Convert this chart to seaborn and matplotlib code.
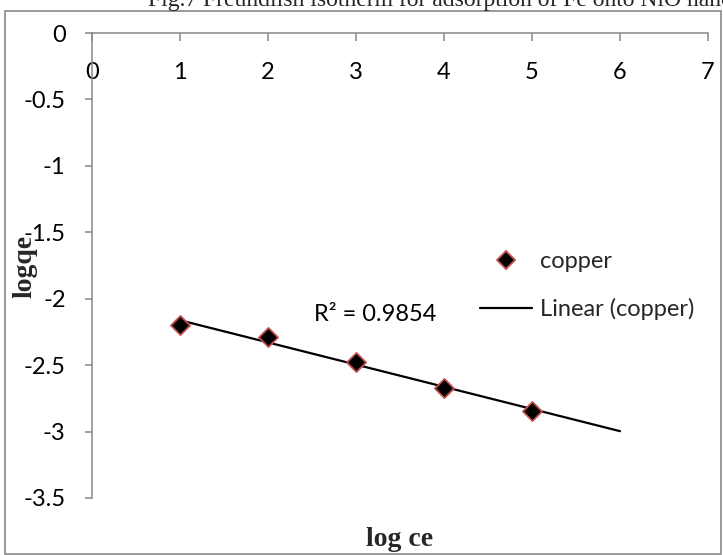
import numpy as np
import pandas as pd
import matplotlib
matplotlib.use("Agg")
import matplotlib.pyplot as plt
import seaborn as sns
from matplotlib.patches import Rectangle
from matplotlib.lines import Line2D

# ---- data ----
log_ce = [1, 2, 3, 4, 5]
log_qe = [-2.20, -2.29, -2.475, -2.67, -2.845]
series_name = "copper"
trend_label = "Linear (copper)"
r2_text = "R\u00b2 = 0.9854"
trend_x_range = [1, 6]
x_ticks = [0, 1, 2, 3, 4, 5, 6, 7]
y_ticks = [0, -0.5, -1, -1.5, -2, -2.5, -3, -3.5]
y_tick_labels = ["0", "-0.5", "-1", "-1.5", "-2", "-2.5", "-3", "-3.5"]
title_text = "Fig.7 Freundlish isotherm for adsorption of Fe onto NiO nanoparticles"
x_label = "log ce"
y_label = "logqe"

sns.set_theme(style="white")
plt.rcParams["font.family"] = ["Lato", "DejaVu Sans"]
plt.rcParams["axes.unicode_minus"] = False

W, H = 723, 555
fig = plt.figure(figsize=(W / 100, H / 100), dpi=100)
ax = fig.add_axes([92 / W, 1 - 498 / H, (708 - 92) / W, (498 - 33) / H])

df = pd.DataFrame({"log_ce": log_ce, "log_qe": log_qe})

# trendline from linear fit of the data
slope, intercept = np.polyfit(log_ce, log_qe, 1)
tx = np.array(trend_x_range, dtype=float)
tdf = pd.DataFrame({"x": tx, "y": slope * tx + intercept})
sns.lineplot(data=tdf, x="x", y="y", ax=ax, color="black", linewidth=1.6, zorder=2)

sns.scatterplot(data=df, x="log_ce", y="log_qe", ax=ax, marker="D", s=95,
                color="black", edgecolor="#c0504d", linewidth=1.3, zorder=3)

ax.set_xlim(0, 7)
ax.set_ylim(-3.5, 0)
ax.set_xticks(x_ticks)
ax.set_xticklabels([str(v) for v in x_ticks])
ax.set_yticks(y_ticks)
ax.set_yticklabels(y_tick_labels)
ax.set_xlabel("")
ax.set_ylabel("")

for s in ["top", "right"]:
    ax.spines[s].set_visible(False)
ax.spines["bottom"].set_position(("data", 0))
for s in ["left", "bottom"]:
    ax.spines[s].set_color("#888888")
    ax.spines[s].set_linewidth(1.1)

ax.tick_params(axis="x", direction="out", length=6, width=1.1, color="#888888",
               labelsize=17, pad=15, labelcolor="black", bottom=True)
ax.tick_params(axis="y", direction="out", length=5, width=1.1, color="#888888",
               labelsize=17, pad=14, labelcolor="black", left=True)

ax.text(2.52, -2.12, r2_text, fontsize=17, va="center", ha="left", color="black")

handles = [
    Line2D([], [], marker="D", linestyle="none", markerfacecolor="black",
           markeredgecolor="#c0504d", markeredgewidth=1.3, markersize=9),
    Line2D([], [], color="black", linewidth=1.6),
]
leg = ax.legend(handles, [series_name, trend_label], loc="upper left",
                bbox_to_anchor=(480 / W, 1 - 251 / H), bbox_transform=fig.transFigure,
                frameon=False, fontsize=17, handlelength=2.2, handletextpad=0.35,
                labelspacing=1.09, borderpad=0, borderaxespad=0)

fig.text(25 / W, 1 - 266 / H, y_label, rotation=90, fontsize=20, fontweight="bold",
         family="Liberation Serif", ha="center", va="center")
fig.text(400 / W, 1 - 540 / H, x_label, fontsize=20, fontweight="bold",
         family="Liberation Serif", ha="center", va="center")
fig.text(148 / W, 1 - 6 / H, title_text, fontsize=17, family="Liberation Serif",
         ha="left", va="baseline")

fig.patches.append(Rectangle((5 / W, 1 - 554 / H), (721 - 5) / W, (554 - 11) / H,
                             transform=fig.transFigure, fill=False,
                             edgecolor="#888888", linewidth=1.2))

fig.savefig("out.png", dpi=100)
